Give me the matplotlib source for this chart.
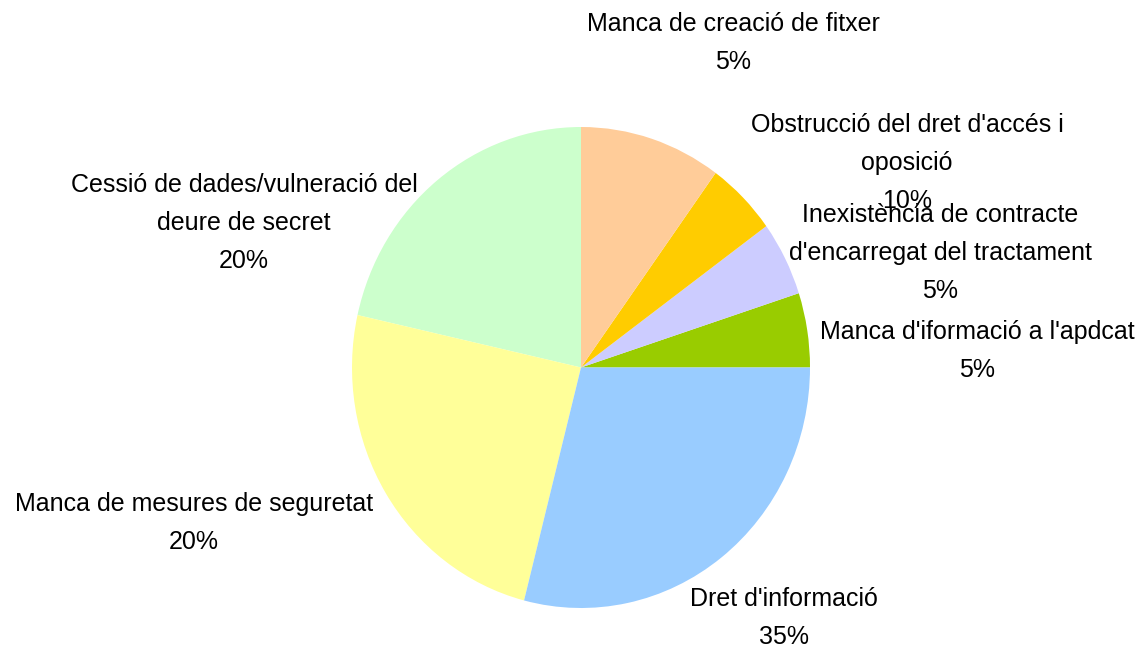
"""
Pie chart of complaint categories (Catalan labels), Excel-style palette.
"""

import matplotlib

matplotlib.use('Agg')
import matplotlib.pyplot as plt

# slice sizes as read from the drawn wedges (counter-clockwise from 3 o'clock)
categories = [
  "Manca d'iformació a l'apdcat",
  "Inexistència de contracte d'encarregat del tractament",
  "Obstrucció del dret d'accés i oposició",
  "Manca de creació de fitxer",
  "Cessió de dades/vulneració del deure de secret",
  "Manca de mesures de seguretat",
  "Dret d'informació",
]
slice_values = [5, 5, 5, 10, 21.5, 24.5, 29]
colors = ['#99CC00', '#CCCCFF', '#FFCC00', '#FFCC99', '#CCFFCC', '#FFFF99', '#99CCFF']

# label text as printed on the chart (same order as categories)
label_lines = [
  "Manca d'iformació a l'apdcat",
  "Inexistència de contracte\nd'encarregat del tractament",
  "Obstrucció del dret d'accés i\noposició",
  "Manca de creació de fitxer",
  "Cessió de dades/vulneració del\ndeure de secret",
  "Manca de mesures de seguretat",
  "Dret d'informació",
]
label_pcts = ['5%', '5%', '10%', '5%', '20%', '20%', '35%']

W, H = 1139, 647
# label centres in pixels (x, y from top)
label_pos = [(977, 351), (940, 253), (907, 163), (733, 43), (244, 223), (194, 523), (784, 618)]

plt.rcParams['font.family'] = ['Liberation Sans', 'DejaVu Sans']

fig = plt.figure(figsize=(W / 100, H / 100), dpi=100)
# pie bounding box in pixels: left 352, right 810, top 127, bottom 608
ax = fig.add_axes([352 / W, (H - 608) / H, 458 / W, 481 / H])
ax.pie(slice_values, colors=colors, startangle=0, counterclock=True,
       radius=1, wedgeprops=dict(linewidth=0))
ax.set_aspect('auto')
ax.set_xlim(-1, 1)
ax.set_ylim(-1, 1)
ax.axis('off')

for text, pct, (px, py) in zip(label_lines, label_pcts, label_pos):
  fig.text(px / W, 1 - py / H, f"{text}\n{pct}", ha='center', va='center',
           multialignment='center', fontsize=18, linespacing=1.75, color='black')

fig.savefig('out.png', dpi=100)
